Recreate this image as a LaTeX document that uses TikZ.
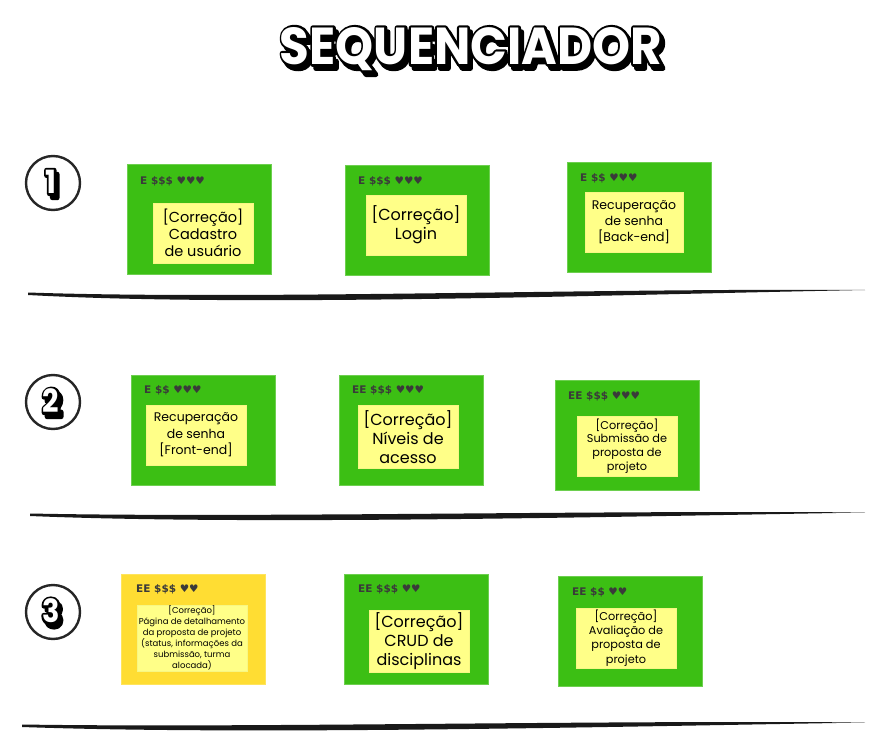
\documentclass[tikz,border=0pt]{standalone}
\usepackage{fontspec}
\setmainfont{Poppins}
\newfontfamily\hdrfont{DejaVu Sans}
\newfontfamily\titlefont{Poppins}
\definecolor{cardgreen}{HTML}{3CBF14}
\definecolor{cardgold}{HTML}{FFDD33}
\definecolor{notey}{HTML}{FFFF88}
\definecolor{hdrgray}{HTML}{3A3A3A}
\tikzset{
  card/.style={draw=cardgreen!75!white, line width=0.6pt, fill=cardgreen, minimum width=144pt, minimum height=110pt, anchor=north west, inner sep=0pt},
  goldcard/.style={card, fill=cardgold, draw=cardgold!80!white},
  note/.style={fill=notey, draw=notey!85!black!20!notey, line width=0.4pt, inner sep=0pt, align=center, text=black, minimum width=100pt, minimum height=60pt},
  hdr/.style={anchor=west, font=\hdrfont\bfseries\fontsize{10.5}{13}\selectfont, text=hdrgray, inner sep=0pt},
  brush/.style={fill=black!90},
  ring/.style={draw=black!85, line width=2.4pt},
}
\newcommand{\strokeon}[1]{\special{pdf:literal direct 2 Tr #1 w 1 j 0 0 0 RG}}
\newcommand{\strokeoff}{\special{pdf:literal direct 0 Tr}}
\newcommand{\bubbletext}[6]{% x, y, size, xscale, name, text
  \node[text=black, inner sep=0pt, font=\titlefont\bfseries\fontsize{#3}{#3}\selectfont] (#5s) at (#1+3, #2+4) {\scalebox{#4}[1]{\strokeon{5}#6\strokeoff}};
  \node[text=black, inner sep=0pt, font=\titlefont\bfseries\fontsize{#3}{#3}\selectfont] (#5o) at (#1, #2) {\scalebox{#4}[1]{\strokeon{5}#6\strokeoff}};
  \node[text=white, inner sep=0pt, font=\titlefont\bfseries\fontsize{#3}{#3}\selectfont] (#5) at (#1, #2) {\scalebox{#4}[1]{#6}};
}
\begin{document}
\begin{tikzpicture}[x=1pt, y=-1pt]
\fill[white] (0,0) rectangle (870,733);
\useasboundingbox (0,0) rectangle (870,733);

% title
\bubbletext{471}{49}{52}{0.93}{title}{SEQUENCIADOR}

% row numbers
\node[ring, circle, minimum size=54pt, inner sep=0pt] (r1) at (53,183) {};
\node[ring, circle, minimum size=54pt, inner sep=0pt] (r2) at (53,402) {};
\node[ring, circle, minimum size=54pt, inner sep=0pt] (r3) at (53,612) {};
\bubbletext{51}{182}{32}{0.9}{d1}{1}
\bubbletext{51}{401}{32}{0.9}{d2}{2}
\bubbletext{51}{611}{32}{0.9}{d3}{3}

% brush lines
\fill[brush] (28,292.5) .. controls (250,300) and (600,288) .. (865,290) .. controls (600,295) and (250,307) .. (28,295) -- cycle;
\fill[brush] (30,513.5) .. controls (250,518) and (600,510) .. (865,512.5) .. controls (600,517) and (250,525) .. (30,516) -- cycle;
\fill[brush] (22,724.5) .. controls (250,728) and (600,720) .. (865,722.5) .. controls (600,727) and (250,735) .. (22,727) -- cycle;

% row 1
\node[card] (c11) at (127,164) {};
\node[hdr] (h11) at (140,181) {E \$\$\$ ♥♥♥};
\node[note, font=\fontsize{14.5}{17}\selectfont] (n11) at (203,233) {[Correção]\\Cadastro\\de usuário};

\node[card] (c12) at (345,165) {};
\node[hdr] (h12) at (358,181) {E \$\$\$ ♥♥♥};
\node[note, font=\fontsize{16}{19}\selectfont] (n12) at (416,225) {[Correção]\\Login};

\node[card] (c13) at (567,162) {};
\node[hdr] (h13) at (580,178) {E \$\$ ♥♥♥};
\node[note, minimum width=98pt, font=\fontsize{12.5}{16}\selectfont] (n13) at (634,222) {Recuperação\\de senha\\{}[Back-end]};

% row 2
\node[card] (c21) at (131,375) {};
\node[hdr] (h21) at (144,390) {E \$\$ ♥♥♥};
\node[note, font=\fontsize{12.5}{16.5}\selectfont] (n21) at (196,435) {Recuperação\\de senha\\{}[Front-end]};

\node[card] (c22) at (339,375) {};
\node[hdr] (h22) at (352,390) {EE \$\$\$ ♥♥♥};
\node[note, minimum height=63pt, font=\fontsize{16}{19}\selectfont] (n22) at (408,437) {[Correção]\\Níveis de\\acesso};

\node[card] (c23) at (555,380) {};
\node[hdr] (h23) at (568,396) {EE \$\$\$ ♥♥♥};
\node[note, font=\fontsize{11.3}{13.7}\selectfont] (n23) at (627,446) {[Correção]\\Submissão de\\proposta de\\projeto};

% row 3
\node[goldcard] (c31) at (121,574) {};
\node[hdr] (h31) at (136,589) {EE \$\$\$ ♥♥};
\node[note, minimum width=110pt, minimum height=66pt, font=\fontsize{8.5}{11}\selectfont] (n31) at (192,638) {[Correção]\\Página de detalhamento\\da proposta de projeto\\(status, informações da\\submissão, turma\\alocada)};

\node[card] (c32) at (344,574) {};
\node[hdr] (h32) at (358,589) {EE \$\$\$ ♥♥};
\node[note, minimum height=62pt, font=\fontsize{16}{19}\selectfont] (n32) at (419,641) {[Correção]\\CRUD de\\disciplinas};

\node[card] (c33) at (558,576) {};
\node[hdr] (h33) at (572,592) {EE \$\$ ♥♥};
\node[note, font=\fontsize{11.3}{14.3}\selectfont] (n33) at (626,638) {[Correção]\\Avaliação de\\proposta de\\projeto};
\end{tikzpicture}
\end{document}
